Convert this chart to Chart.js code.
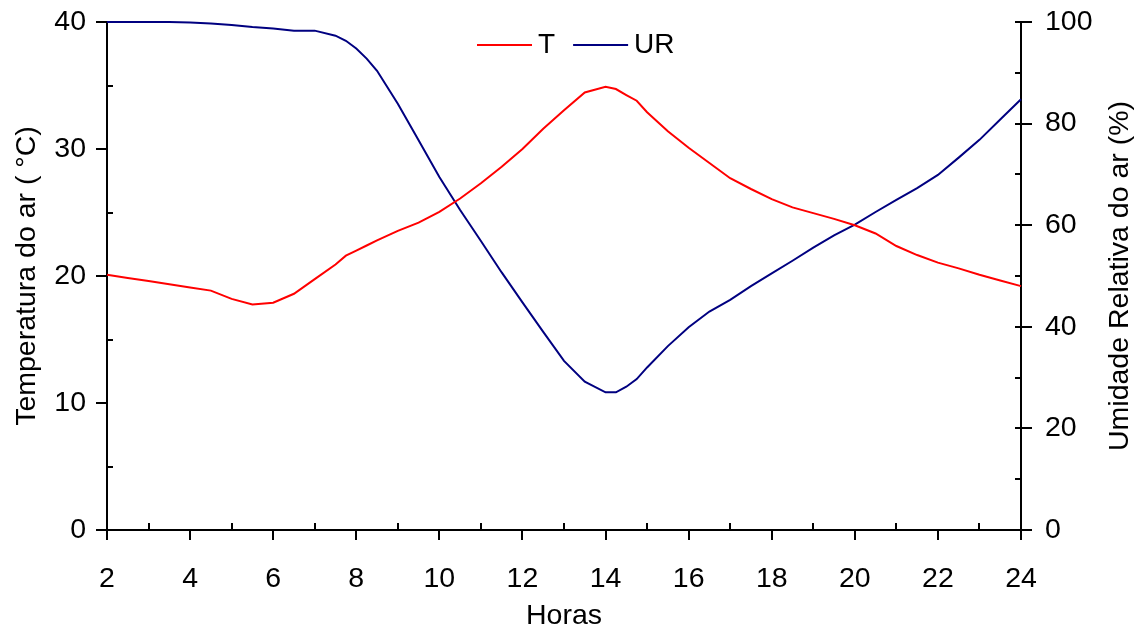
<!DOCTYPE html>
<html>
<head>
<meta http-equiv="Content-Type" content="text/html;charset=utf-8" />
<script src="https://cdn.jsdelivr.net/npm/chart.js@4.4.1/dist/chart.umd.min.js"></script>
<style>
  body { margin: 0; background: #fff; }
  #caixa { width: 1136px; height: 633px; }
</style>
</head>
<body>
<div id="caixa"><canvas id="grafico"></canvas></div>

<script type="text/javascript">
// horas do dia (eixo x)
var horas = [2, 2.5, 3, 3.5, 4, 4.5, 5, 5.5, 6, 6.5, 7, 7.5, 7.75, 8, 8.25, 8.5, 9, 9.5,
             10, 10.5, 11, 11.5, 12, 12.5, 13, 13.5, 14, 14.25, 14.5, 14.75, 15, 15.5,
             16, 16.5, 17, 17.5, 18, 18.5, 19, 19.5, 20, 20.5, 21, 21.5, 22, 22.5, 23, 23.5, 24];

// temperatura do ar (oC)
var temperatura = [20.1, 19.85, 19.6, 19.35, 19.1, 18.85, 18.2, 17.75, 17.9, 18.6, 19.75, 20.9, 21.6,
                   22.0, 22.4, 22.8, 23.55, 24.2, 25.05, 26.1, 27.3, 28.6, 30.0, 31.6, 33.05, 34.45,
                   34.9, 34.72, 34.25, 33.8, 32.9, 31.4, 30.1, 28.9, 27.7, 26.85, 26.05, 25.4, 24.95,
                   24.5, 24.0, 23.35, 22.36, 21.65, 21.05, 20.6, 20.1, 19.65, 19.2];

// umidade relativa do ar (%)
var umidade = [100, 100, 100, 100, 99.9, 99.7, 99.4, 99.0, 98.7, 98.3, 98.3, 97.3, 96.3,
               94.8, 92.8, 90.4, 83.9, 76.7, 69.5, 63.0, 56.9, 50.7, 44.8, 39.0, 33.3, 29.2,
               27.1, 27.1, 28.2, 29.7, 32.0, 36.2, 39.9, 43.0, 45.3, 48.0, 50.5, 53.0, 55.6,
               58.0, 60.1, 62.6, 65.0, 67.3, 69.9, 73.3, 76.8, 80.8, 84.8];

var fonte = "'Liberation Sans', Arial, sans-serif";
var tam = 28.5;

function pontos(valores) {
    return valores.map(function (v, i) { return { x: horas[i], y: v }; });
}

// sem folga extra para os rotulos das pontas
function semFolgaVertical(s) { s.paddingTop = 0; s.paddingBottom = 0; }

// marcas dos eixos: maiores para fora, menores para dentro; o eixo da direita cruza
var marcas = {
    id: 'marcas',
    afterDraw: function (chart) {
        var ctx = chart.ctx, a = chart.chartArea;
        var x = chart.scales.x, y = chart.scales.y, y1 = chart.scales.y1;
        ctx.save();
        ctx.strokeStyle = '#000';
        ctx.lineWidth = 2;
        ctx.beginPath();
        for (var h = 2; h <= 24; h++) {
            var px = Math.round(x.getPixelForValue(h));
            if (h % 2 === 0) { ctx.moveTo(px, a.bottom); ctx.lineTo(px, a.bottom + 10); }
            else { ctx.moveTo(px, a.bottom); ctx.lineTo(px, a.bottom - 7); }
        }
        for (var t = 0; t <= 40; t += 5) {
            var py = Math.round(y.getPixelForValue(t));
            if (t % 10 === 0) { ctx.moveTo(a.left - 11, py); ctx.lineTo(a.left, py); }
            else { ctx.moveTo(a.left, py); ctx.lineTo(a.left + 6, py); }
        }
        for (var u = 0; u <= 100; u += 10) {
            var qy = Math.round(y1.getPixelForValue(u));
            if (u % 20 === 0) { ctx.moveTo(a.right - 6, qy); ctx.lineTo(a.right + 11, qy); }
            else { ctx.moveTo(a.right - 6, qy); ctx.lineTo(a.right, qy); }
        }
        ctx.stroke();

        ctx.fillStyle = '#000';
        ctx.font = '28px ' + fonte;
        ctx.textBaseline = 'middle';

        // legenda no alto, dentro da area do grafico
        var ly = a.top + 23;
        var lx = (a.left + a.right) / 2 - 87;
        chart.data.datasets.forEach(function (ds) {
            ctx.strokeStyle = ds.borderColor;
            ctx.beginPath();
            ctx.moveTo(lx, ly);
            ctx.lineTo(lx + 55, ly);
            ctx.stroke();
            ctx.textAlign = 'left';
            ctx.fillText(ds.label, lx + 61, ly);
            lx += 62 + ctx.measureText(ds.label).width + 17;
        });

        // titulo do eixo da direita, lido de baixo para cima
        ctx.font = tam + 'px ' + fonte;
        ctx.textAlign = 'center';
        ctx.translate(1120, (a.top + a.bottom) / 2);
        ctx.rotate(-Math.PI / 2);
        ctx.fillText('Umidade Relativa do ar (%)', 0, 0);
        ctx.restore();
    }
};

var ctx = document.getElementById('grafico').getContext('2d');
var chart = new Chart(ctx, {
    type: 'line',
    data: {
        datasets: [{
            label: 'T',
            data: pontos(temperatura),
            yAxisID: 'y',
            borderColor: '#ff0000',
            borderWidth: 2,
            pointRadius: 0,
            tension: 0,
            clip: false
        }, {
            label: 'UR',
            data: pontos(umidade),
            yAxisID: 'y1',
            borderColor: '#000080',
            borderWidth: 2,
            pointRadius: 0,
            tension: 0,
            clip: false
        }]
    },
    options: {
        responsive: true,
        maintainAspectRatio: false,
        animation: false,
        layout: { padding: { top: 22, left: 0, right: 0, bottom: 0 } },
        plugins: {
            tooltip: { enabled: false },
            legend: { display: false }
        },
        scales: {
            x: {
                type: 'linear',
                min: 2, max: 24,
                grid: { display: false, drawTicks: false },
                border: { display: true, color: '#000', width: 2 },
                ticks: { stepSize: 2, color: '#000', padding: 32, font: { family: fonte, size: tam } },
                title: { display: true, text: 'Horas', color: '#000', padding: 0, font: { family: fonte, size: tam } },
                afterFit: function (s) { s.height = 103; s.paddingLeft = 0; s.paddingRight = 0; }
            },
            y: {
                position: 'left',
                min: 0, max: 40,
                grid: { display: false, drawTicks: false },
                border: { display: true, color: '#000', width: 2 },
                ticks: { stepSize: 10, color: '#000', padding: 21, font: { family: fonte, size: tam } },
                title: { display: true, text: 'Temperatura do ar ( °C)', color: '#000', padding: { top: 10, bottom: 0 }, font: { family: fonte, size: tam } },
                afterFit: function (s) { s.width = 107; semFolgaVertical(s); }
            },
            y1: {
                position: 'right',
                min: 0, max: 100,
                grid: { display: false, drawTicks: false },
                border: { display: true, color: '#000', width: 2 },
                ticks: { stepSize: 20, color: '#000', padding: 24, font: { family: fonte, size: tam } },
                afterFit: function (s) { s.width = 115; semFolgaVertical(s); }
            }
        }
    },
    plugins: [marcas]
});
</script>
</body>
</html>
